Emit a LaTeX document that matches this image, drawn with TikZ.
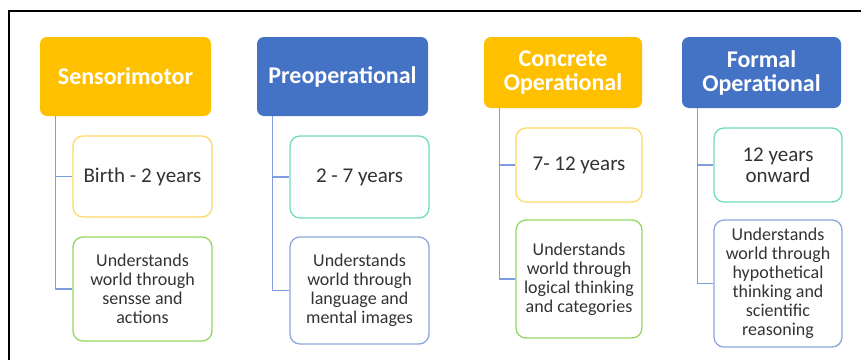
\documentclass[tikz,border=0pt]{standalone}
\usepackage{fontspec}
\setmainfont{Carlito}
\definecolor{gold}{HTML}{FFC000}
\definecolor{hblue}{HTML}{4472C4}
\definecolor{byel}{HTML}{FFD966}
\definecolor{bteal}{HTML}{6FDDB8}
\definecolor{bgreen}{HTML}{92D860}
\definecolor{bblue}{HTML}{8EA6DB}
\definecolor{conncol}{HTML}{7F9CE0}
\definecolor{txt}{HTML}{333333}
\begin{document}
\begin{tikzpicture}[x=1pt,y=-1pt,
  header/.style={rounded corners=7pt, inner sep=0pt, align=center, text=white,
    font=\fontsize{24}{24}\selectfont\bfseries},
  gbox/.style={rounded corners=10pt, inner sep=0pt, align=center, fill=white,
    draw, line width=1.3pt, text=txt},
  yearfont/.style={font=\fontsize{21}{21}\selectfont},
  descfont/.style={font=\fontsize{18}{19}\selectfont},
  conn/.style={draw=conncol, line width=1.2pt}]
\useasboundingbox (0,0) rectangle (861,359);
\begin{scope}
\clip (0,0) rectangle (861,359);
\draw[line width=1.5pt, black] (9,11) rectangle (900,400);
\end{scope}
% headers
\node[header, fill=gold, minimum width=171, minimum height=79] (h1) at (125.5,76.5) {Sensorimotor};
\node[header, fill=hblue, minimum width=171, minimum height=79] (h2) at (342.5,76.5) {Preoperational};
\node[header, fill=gold, minimum width=158, minimum height=71] (h3) at (563,72.5) {Concrete\\Operational};
\node[header, fill=hblue, minimum width=159, minimum height=71] (h4) at (761.5,72.5) {Formal\\Operational};
% boxes
\node[gbox, draw=byel, yearfont, minimum width=139, minimum height=81] (b1a) at (142.5,176.5) {Birth - 2 years};
\node[gbox, draw=bgreen, descfont, minimum width=139, minimum height=104] (b1b) at (142.5,289) {Understands\\world through\\sensse and\\actions};
\node[gbox, draw=bteal, yearfont, minimum width=139, minimum height=82] (b2a) at (359.5,177) {2 - 7 years};
\node[gbox, draw=bblue, descfont, minimum width=139, minimum height=107] (b2b) at (359.5,290.5) {Understands\\world through\\language and\\mental images};
\node[gbox, draw=byel, yearfont, minimum width=126, minimum height=74] (b3a) at (579,165) {7- 12 years};
\node[gbox, draw=bgreen, descfont, minimum width=126, minimum height=118] (b3b) at (579,279) {Understands\\world through\\logical thinking\\and categories};
\node[gbox, draw=bteal, yearfont, minimum width=128, minimum height=74] (b4a) at (778,165) {12 years\\onward};
\node[gbox, draw=bblue, descfont, minimum width=128, minimum height=127] (b4b) at (778,283.5) {Understands\\world through\\hypothetical\\thinking and\\scientific\\reasoning};
% connectors
\foreach \h/\a/\b in {h1/b1a/b1b, h2/b2a/b2b, h3/b3a/b3b, h4/b4a/b4b}{
  \draw[conn] ([xshift=16pt]\h.south west) |- (\b.west);
  \draw[conn] ([xshift=16pt]\h.south west) |- (\a.west);
}
\end{tikzpicture}
\end{document}
